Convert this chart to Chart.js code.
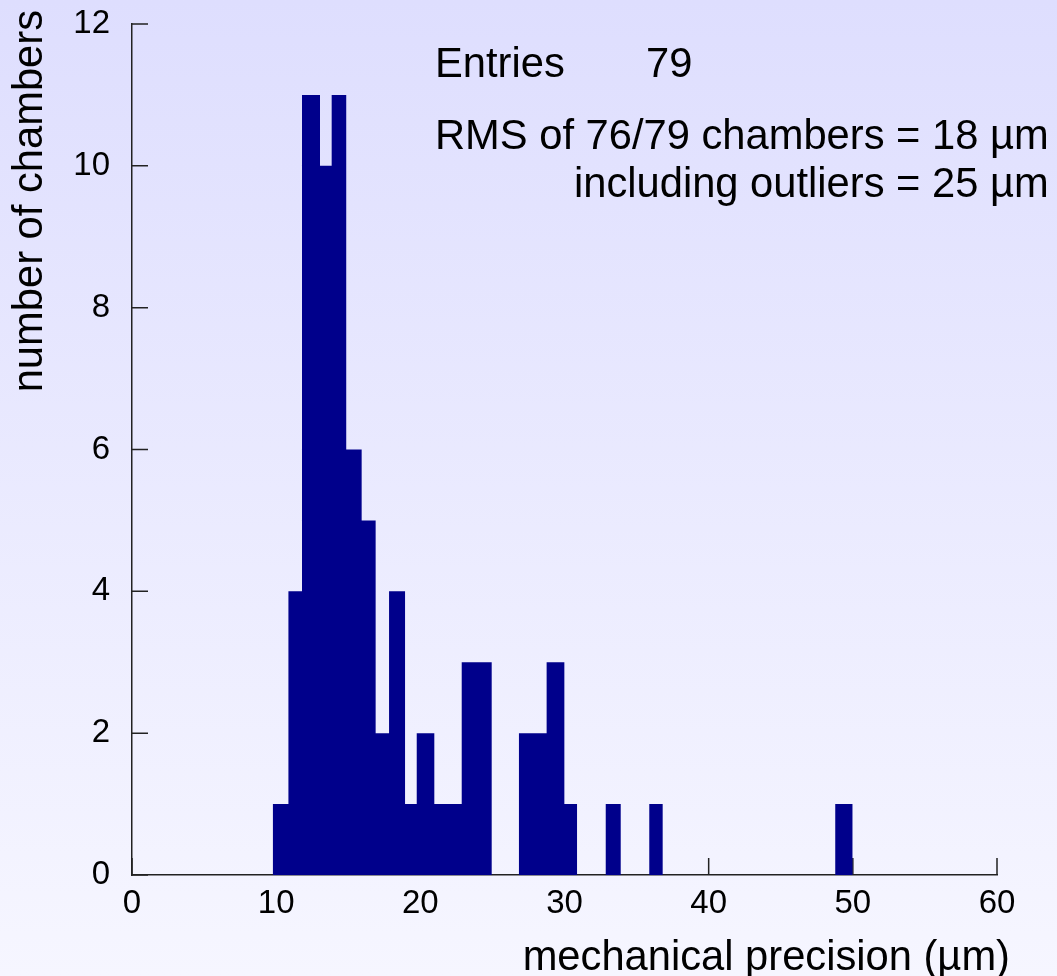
<!DOCTYPE html>
<html>
<head>
<meta charset="utf-8">
<script src="https://cdn.jsdelivr.net/npm/chart.js@4.4.1/dist/chart.umd.min.js"></script>
<style>
html, body { margin: 0; padding: 0; }
body {
    width: 1057px;
    height: 976px;
    overflow: hidden;
    background: linear-gradient(to bottom, #dedefe, #f6f6ff);
}
</style>
</head>
<body>
<canvas id="histChart" width="1057" height="976"></canvas>
<script>
// histogram bin edges (µm) and entries per bin
const binEdges = [9.76, 10.85, 11.79, 13.04, 13.85, 14.86, 15.93, 16.90, 17.83, 18.94,
    19.75, 20.97, 22.87, 24.95, 26.84, 28.76, 29.99, 30.87, 32.86, 33.90,
    35.88, 36.81, 48.78, 49.99];
const counts = [1, 4, 11, 10, 11, 6, 5, 2, 4, 1,
    2, 1, 3, 0, 2, 3, 1, 0, 1, 0,
    1, 0, 1];

const xRange = [0, 60];
const yRange = [0, 12];

const entries = 79;
const coreChambers = 76;
const rmsCore = 18;
const rmsAll = 25;

const fontFamily = '"Liberation Sans", Arial, Helvetica, sans-serif';
const bigFont = 41.7;
const tickFont = 33;
const axisColor = '#222';
const barColor = '#00008b';

// each point opens a bin; the last edge closes the histogram back to zero
const points = binEdges.map((x, i) => ({ x: x, y: i < counts.length ? counts[i] : 0 }));

// tick marks drawn inside the frame, like the original
const innerTicks = {
    id: 'innerTicks',
    beforeDatasetsDraw(chart) {
        const { ctx, scales: { x, y } } = chart;
        ctx.save();
        ctx.strokeStyle = axisColor;
        ctx.lineWidth = 1.5;
        ctx.beginPath();
        y.ticks.forEach(t => {
            const py = y.getPixelForValue(t.value);
            ctx.moveTo(x.left, py);
            ctx.lineTo(x.left + 16, py);
        });
        x.ticks.forEach(t => {
            const px = x.getPixelForValue(t.value);
            ctx.moveTo(px, y.bottom);
            ctx.lineTo(px, y.bottom - 17);
        });
        ctx.stroke();
        ctx.restore();
    }
};

const statsBox = {
    id: 'statsBox',
    afterDraw(chart) {
        const ctx = chart.ctx;
        ctx.save();
        ctx.fillStyle = '#000';
        ctx.font = bigFont + 'px ' + fontFamily;
        ctx.textBaseline = 'alphabetic';
        ctx.textAlign = 'left';
        ctx.fillText('Entries', 435, 77);
        ctx.fillText(String(entries), 646, 77);
        const rmsText = 'RMS of ' + coreChambers + '/' + entries + ' chambers = ' + rmsCore + ' µm';
        ctx.fillText(rmsText, 435, 149);
        const right = 435 + ctx.measureText(rmsText).width;
        ctx.textAlign = 'right';
        ctx.fillText('including outliers = ' + rmsAll + ' µm', right, 197);
        ctx.restore();
    }
};

const ctx = document.getElementById('histChart').getContext('2d');

const histChart = new Chart(ctx, {
    type: 'line',
    data: {
        datasets: [{
            label: 'chambers',
            data: points,
            stepped: 'before',
            fill: 'origin',
            backgroundColor: barColor,
            borderColor: 'rgba(0,0,0,0)',
            borderWidth: 0,
            pointRadius: 0,
            tension: 0
        }]
    },
    options: {
        responsive: false,
        animation: false,
        layout: {
            padding: { top: 10, right: 47, bottom: 0, left: 0 }
        },
        plugins: {
            legend: { display: false },
            tooltip: { enabled: false },
            // axis captions sit outside the plot frame, so they go in the title blocks
            title: {
                display: true,
                text: 'number of chambers',
                position: 'left',
                align: 'end',
                fullSize: true,
                color: '#000',
                padding: { top: 13, bottom: 0 },
                font: { size: bigFont, family: fontFamily, weight: 'normal', lineHeight: 0.85 }
            },
            subtitle: {
                display: true,
                text: 'mechanical precision (µm)',
                position: 'bottom',
                align: 'end',
                fullSize: true,
                color: '#000',
                padding: { top: 0, bottom: 0 },
                font: { size: bigFont, family: fontFamily, weight: 'normal', lineHeight: 0.85 }
            }
        },
        scales: {
            x: {
                type: 'linear',
                min: xRange[0],
                max: xRange[1],
                afterFit(scale) {
                    scale.height = 101 - bigFont * 0.85;
                    scale.paddingRight = 60;
                },
                grid: { display: false, drawTicks: false },
                border: { display: true, color: axisColor, width: 1.5 },
                ticks: {
                    stepSize: 10,
                    color: '#000',
                    padding: 9,
                    maxRotation: 0,
                    font: { size: tickFont, family: fontFamily }
                }
            },
            y: {
                min: yRange[0],
                max: yRange[1],
                afterFit(scale) {
                    scale.width = 132 - (bigFont * 0.85 + 13);
                    scale.paddingTop = 24;
                    scale.paddingBottom = 10;
                },
                grid: { display: false, drawTicks: false },
                border: { display: true, color: axisColor, width: 1.5 },
                ticks: {
                    stepSize: 2,
                    color: '#000',
                    padding: 22,
                    font: { size: tickFont, family: fontFamily }
                }
            }
        }
    },
    plugins: [innerTicks, statsBox]
});
</script>
</body>
</html>
